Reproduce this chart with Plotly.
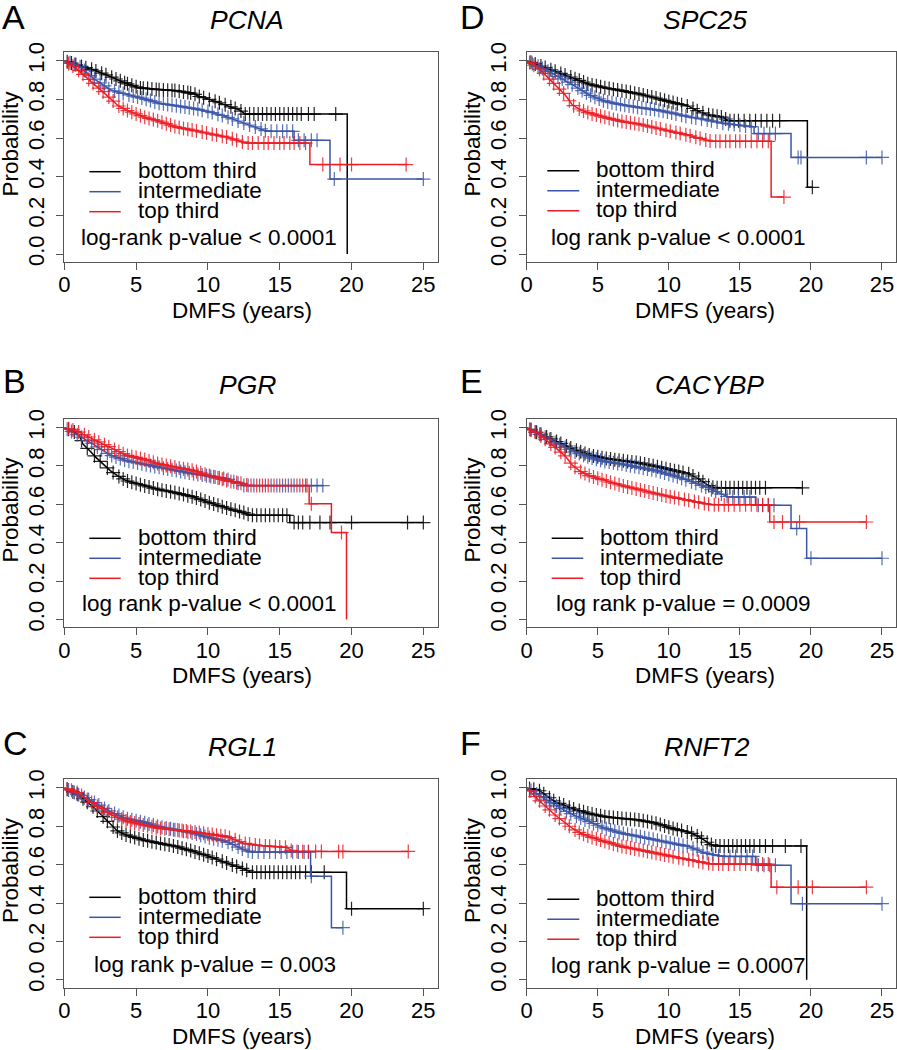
import numpy as np
import plotly.graph_objects as go

# ---------------- data ----------------
panel_letters = ["A", "B", "C", "D", "E", "F"]
gene_names = ["PCNA", "PGR", "RGL1", "SPC25", "CACYBP", "RNFT2"]
pvalue_texts = [
    "log-rank p-value < 0.0001",
    "log rank p-value < 0.0001",
    "log rank p-value = 0.003",
    "log rank p-value < 0.0001",
    "log rank p-value = 0.0009",
    "log rank p-value = 0.0007",
]
group_names = ["bottom third", "intermediate", "top third"]
x_tick_vals = [0, 5, 10, 15, 20, 25]
y_tick_vals = [0.0, 0.2, 0.4, 0.6, 0.8, 1.0]
y_tick_text = ["0.0", "0.2", "0.4", "0.6", "0.8", "1.0"]
x_title = "DMFS (years)"
y_title = "Probability"

# ---- Panel A: PCNA ----
A_bot_t = [0, 1.0, 2.0, 3.2, 4.3, 5.2, 6.6, 7.8, 9.0, 9.4, 10.1, 11.3, 12.2, 12.6, 19.7, 19.7]
A_bot_s = [1.0, 0.975, 0.953, 0.918, 0.883, 0.86, 0.85, 0.845, 0.83, 0.815, 0.80, 0.77, 0.745, 0.724, 0.724, 0.0]
A_bot_c = [0.2, 0.5, 0.8, 1.2, 1.5, 1.9, 2.2, 2.6, 2.9, 3.3, 3.6, 3.9, 4.2, 4.4, 4.7, 5.0, 5.3, 5.5, 5.8, 6.1, 6.4, 6.6, 6.9, 7.2, 7.5, 7.7, 8.0, 8.3, 8.6, 8.8, 9.1, 9.4, 9.7, 10.1, 10.5, 10.8, 11.2, 11.6, 11.9, 12.3, 12.6, 12.9, 13.2, 13.5, 13.8, 14.1, 14.4, 14.7, 15.0, 15.3, 15.6, 15.9, 16.2, 16.5, 17.0, 17.4, 18.9]
A_int_t = [0, 1.07, 2.0, 2.7, 3.2, 4.3, 5.5, 6.6, 7.8, 9.0, 10.1, 11.3, 12.4, 13.6, 14.1, 16.0, 16.0, 18.5, 18.5, 25.0]
A_int_s = [1.0, 0.97, 0.91, 0.875, 0.85, 0.826, 0.805, 0.78, 0.767, 0.753, 0.736, 0.71, 0.68, 0.65, 0.635, 0.635, 0.588, 0.588, 0.388, 0.388]
A_int_c = [0.4, 0.7, 1.1, 1.4, 1.8, 2.1, 2.5, 2.8, 3.1, 3.5, 3.8, 4.1, 4.5, 4.8, 5.1, 5.4, 5.7, 6.0, 6.3, 6.6, 6.9, 7.2, 7.5, 7.8, 8.1, 8.4, 8.7, 9.0, 9.3, 9.6, 10.0, 10.3, 10.7, 11.0, 11.4, 11.7, 12.1, 12.5, 12.9, 13.3, 13.7, 14.0, 14.4, 14.8, 15.2, 15.5, 15.9, 16.3, 16.7, 17.2, 17.6, 18.8, 25.0]
A_top_t = [0, 0.84, 2.0, 2.7, 3.2, 3.7, 4.3, 5.5, 6.6, 7.8, 9.0, 10.1, 11.3, 12.4, 12.7, 17.1, 17.1, 23.9]
A_top_s = [1.0, 0.96, 0.883, 0.84, 0.805, 0.77, 0.745, 0.71, 0.687, 0.657, 0.64, 0.623, 0.605, 0.58, 0.574, 0.574, 0.463, 0.463]
A_top_c = [0.3, 0.6, 1.0, 1.3, 1.7, 2.0, 2.4, 2.7, 3.1, 3.4, 3.8, 4.1, 4.4, 4.7, 5.0, 5.3, 5.6, 5.9, 6.2, 6.5, 6.8, 7.1, 7.4, 7.7, 8.0, 8.3, 8.6, 8.9, 9.2, 9.6, 9.9, 10.3, 10.6, 11.0, 11.3, 11.7, 12.0, 12.4, 12.8, 13.1, 13.5, 13.9, 14.2, 14.6, 15.0, 15.3, 15.7, 16.0, 16.4, 16.8, 18.0, 19.2, 20.0, 23.8]

# ---- Panel B: PGR ----
B_bot_t = [0, 0.6, 1.07, 1.3, 1.77, 2.2, 3.2, 3.7, 4.3, 5.5, 6.6, 7.8, 9.0, 10.1, 11.3, 12.5, 13.0, 15.7, 15.7, 25.0]
B_bot_s = [1.0, 0.983, 0.957, 0.914, 0.88, 0.845, 0.776, 0.75, 0.724, 0.698, 0.677, 0.66, 0.638, 0.609, 0.581, 0.557, 0.543, 0.543, 0.505, 0.505]
B_bot_c = [0.3, 0.7, 1.2, 1.6, 2.1, 2.5, 3.0, 3.4, 3.8, 4.1, 4.4, 4.7, 5.0, 5.3, 5.6, 5.9, 6.2, 6.5, 6.8, 7.1, 7.4, 7.7, 8.0, 8.3, 8.6, 8.9, 9.2, 9.5, 9.8, 10.1, 10.4, 10.7, 11.0, 11.3, 11.6, 11.9, 12.2, 12.5, 12.8, 13.1, 13.4, 13.7, 14.0, 14.3, 14.6, 14.9, 15.2, 15.5, 16.0, 16.3, 16.6, 17.1, 17.8, 18.5, 20.0, 23.9, 25.0]
B_int_t = [0, 0.84, 2.0, 2.7, 3.2, 4.3, 5.5, 6.6, 7.8, 9.0, 10.1, 11.3, 12.5, 18.0]
B_int_s = [1.0, 0.966, 0.914, 0.88, 0.857, 0.828, 0.81, 0.793, 0.776, 0.759, 0.747, 0.733, 0.698, 0.698]
B_int_c = [0.2, 0.5, 0.9, 1.2, 1.6, 1.9, 2.3, 2.6, 3.0, 3.3, 3.6, 3.9, 4.2, 4.5, 4.8, 5.1, 5.4, 5.7, 6.0, 6.3, 6.6, 6.9, 7.2, 7.5, 7.8, 8.1, 8.4, 8.7, 9.0, 9.3, 9.6, 9.9, 10.2, 10.5, 10.8, 11.1, 11.4, 11.8, 12.1, 12.5, 12.8, 13.2, 13.6, 14.0, 14.4, 14.8, 15.2, 15.6, 16.0, 16.4, 16.8, 17.2, 17.6, 18.0]
B_top_t = [0, 0.84, 2.0, 3.2, 4.3, 5.5, 6.6, 7.8, 9.0, 10.1, 11.3, 12.5, 12.8, 17.05, 17.05, 18.6, 18.6, 19.65, 19.65]
B_top_s = [1.0, 0.983, 0.94, 0.897, 0.857, 0.836, 0.81, 0.793, 0.776, 0.75, 0.724, 0.707, 0.698, 0.698, 0.603, 0.603, 0.453, 0.453, 0.0]
B_top_c = [0.3, 0.6, 1.0, 1.4, 1.7, 2.1, 2.4, 2.8, 3.1, 3.5, 3.8, 4.1, 4.4, 4.7, 5.0, 5.3, 5.6, 5.9, 6.2, 6.5, 6.8, 7.1, 7.4, 7.7, 8.0, 8.3, 8.6, 8.9, 9.2, 9.5, 9.8, 10.1, 10.4, 10.7, 11.0, 11.3, 11.6, 12.0, 12.3, 12.7, 13.0, 13.4, 13.8, 14.2, 14.6, 15.0, 15.4, 15.8, 16.2, 16.6, 16.9, 17.2, 19.3]

# ---- Panel C: RGL1 ----
C_bot_t = [0, 0.84, 2.0, 2.7, 3.2, 3.7, 4.3, 5.5, 6.6, 7.8, 9.0, 10.1, 11.3, 12.5, 13.0, 19.65, 19.65, 25.0]
C_bot_s = [1.0, 0.971, 0.902, 0.85, 0.81, 0.776, 0.755, 0.729, 0.712, 0.695, 0.669, 0.643, 0.609, 0.578, 0.56, 0.56, 0.371, 0.371]
C_bot_c = [0.2, 0.6, 0.9, 1.3, 1.6, 2.0, 2.3, 2.7, 3.0, 3.4, 3.7, 4.0, 4.3, 4.6, 4.9, 5.2, 5.5, 5.8, 6.1, 6.4, 6.7, 7.0, 7.3, 7.6, 7.9, 8.2, 8.5, 8.8, 9.1, 9.4, 9.7, 10.0, 10.3, 10.6, 11.0, 11.3, 11.7, 12.0, 12.4, 12.7, 13.1, 13.4, 13.7, 14.0, 14.3, 14.6, 14.9, 15.2, 15.5, 15.8, 16.1, 16.4, 16.8, 17.2, 18.1, 20.0, 25.0]
C_int_t = [0, 0.84, 2.0, 3.2, 4.3, 5.5, 6.6, 7.8, 9.0, 10.1, 11.3, 12.5, 13.0, 17.15, 17.15, 18.6, 18.6, 19.4]
C_int_s = [1.0, 0.971, 0.928, 0.876, 0.841, 0.821, 0.798, 0.781, 0.764, 0.741, 0.72, 0.678, 0.666, 0.666, 0.54, 0.54, 0.272, 0.272]
C_int_c = [0.3, 0.7, 1.0, 1.4, 1.7, 2.1, 2.4, 2.8, 3.1, 3.5, 3.8, 4.1, 4.4, 4.7, 5.0, 5.3, 5.6, 5.9, 6.2, 6.5, 6.8, 7.1, 7.4, 7.7, 8.0, 8.3, 8.6, 8.9, 9.2, 9.5, 9.8, 10.1, 10.4, 10.7, 11.0, 11.4, 11.7, 12.1, 12.4, 12.8, 13.1, 13.5, 13.9, 14.3, 14.7, 15.1, 15.5, 15.9, 16.3, 16.7, 17.0, 17.2, 19.4]
C_top_t = [0, 0.84, 2.0, 3.2, 4.3, 5.5, 6.6, 7.8, 9.0, 10.1, 11.3, 12.5, 13.6, 15.5, 15.9, 23.95]
C_top_s = [1.0, 0.979, 0.919, 0.862, 0.828, 0.807, 0.79, 0.781, 0.772, 0.759, 0.747, 0.712, 0.70, 0.69, 0.669, 0.669]
C_top_c = [0.2, 0.5, 0.9, 1.2, 1.6, 1.9, 2.3, 2.6, 3.0, 3.3, 3.7, 4.0, 4.3, 4.6, 4.9, 5.2, 5.5, 5.8, 6.1, 6.4, 6.7, 7.0, 7.3, 7.6, 7.9, 8.2, 8.5, 8.8, 9.1, 9.4, 9.7, 10.0, 10.3, 10.6, 10.9, 11.2, 11.5, 11.9, 12.2, 12.6, 12.9, 13.3, 13.6, 14.0, 14.3, 14.7, 15.0, 15.4, 15.8, 16.2, 16.6, 17.0, 17.5, 17.9, 19.1, 19.4, 23.95]

# ---- Panel D: SPC25 ----
D_bot_t = [0, 2.0, 3.2, 4.4, 5.5, 6.7, 7.9, 9.1, 10.2, 11.4, 12.1, 12.8, 13.8, 14.2, 19.75, 19.75, 20.1]
D_bot_s = [1.0, 0.945, 0.913, 0.878, 0.86, 0.845, 0.828, 0.807, 0.785, 0.764, 0.738, 0.72, 0.707, 0.69, 0.69, 0.345, 0.345]
D_bot_c = [0.3, 0.6, 1.0, 1.3, 1.7, 2.0, 2.4, 2.7, 3.1, 3.4, 3.7, 4.0, 4.3, 4.6, 4.9, 5.2, 5.5, 5.8, 6.1, 6.4, 6.7, 7.0, 7.3, 7.6, 7.9, 8.2, 8.5, 8.8, 9.1, 9.4, 9.7, 10.0, 10.3, 10.6, 10.9, 11.3, 11.7, 12.0, 12.4, 12.8, 13.1, 13.4, 13.7, 14.0, 14.3, 14.6, 14.9, 15.3, 15.7, 16.1, 16.5, 16.9, 17.3, 17.8, 20.1]
D_int_t = [0, 2.0, 3.2, 4.4, 5.5, 6.7, 7.9, 9.1, 10.2, 11.4, 12.6, 13.8, 16.0, 16.0, 18.6, 18.6, 25.0]
D_int_s = [1.0, 0.927, 0.876, 0.824, 0.79, 0.772, 0.758, 0.746, 0.73, 0.71, 0.695, 0.677, 0.657, 0.623, 0.623, 0.50, 0.50]
D_int_c = [0.4, 0.8, 1.1, 1.5, 1.8, 2.2, 2.5, 2.9, 3.2, 3.6, 3.9, 4.2, 4.5, 4.8, 5.1, 5.4, 5.7, 6.0, 6.3, 6.6, 6.9, 7.2, 7.5, 7.8, 8.1, 8.4, 8.7, 9.0, 9.3, 9.6, 9.9, 10.2, 10.5, 10.9, 11.2, 11.6, 11.9, 12.3, 12.7, 13.0, 13.4, 13.8, 14.2, 14.6, 15.0, 15.4, 15.8, 16.3, 16.7, 17.1, 17.5, 19.1, 19.3, 23.9, 25.0]
D_top_t = [0, 0.85, 2.0, 2.7, 3.2, 3.8, 4.4, 5.5, 6.7, 7.9, 9.1, 10.2, 11.4, 12.6, 13.0, 17.2, 17.2, 18.1]
D_top_s = [1.0, 0.96, 0.875, 0.824, 0.772, 0.746, 0.729, 0.707, 0.686, 0.672, 0.652, 0.634, 0.614, 0.59, 0.583, 0.583, 0.295, 0.295]
D_top_c = [0.2, 0.5, 0.9, 1.2, 1.6, 1.9, 2.3, 2.6, 3.0, 3.3, 3.7, 4.0, 4.3, 4.6, 4.9, 5.2, 5.5, 5.8, 6.1, 6.4, 6.7, 7.0, 7.3, 7.6, 7.9, 8.2, 8.5, 8.8, 9.1, 9.4, 9.8, 10.1, 10.5, 10.8, 11.2, 11.5, 11.9, 12.2, 12.6, 12.9, 13.3, 13.6, 14.0, 14.3, 14.7, 15.0, 15.4, 15.8, 16.2, 16.6, 17.0, 18.1]

# ---- Panel E: CACYBP ----
E_bot_t = [0, 2.0, 3.2, 4.4, 5.5, 6.7, 7.9, 9.1, 10.2, 11.4, 12.1, 12.8, 13.2, 19.4]
E_bot_s = [1.0, 0.931, 0.891, 0.857, 0.84, 0.828, 0.816, 0.798, 0.779, 0.759, 0.733, 0.698, 0.686, 0.686]
E_bot_c = [0.3, 0.7, 1.0, 1.4, 1.7, 2.1, 2.4, 2.8, 3.1, 3.5, 3.8, 4.1, 4.4, 4.7, 5.0, 5.3, 5.6, 5.9, 6.2, 6.5, 6.8, 7.1, 7.4, 7.7, 8.0, 8.3, 8.6, 8.9, 9.2, 9.5, 9.8, 10.1, 10.4, 10.7, 11.0, 11.4, 11.7, 12.1, 12.4, 12.8, 13.1, 13.4, 13.7, 14.0, 14.3, 14.6, 14.9, 15.2, 15.5, 15.8, 16.1, 16.4, 16.8, 19.4]
E_int_t = [0, 2.0, 3.2, 4.4, 5.5, 6.7, 7.9, 9.1, 10.2, 11.4, 12.6, 13.8, 14.2, 16.1, 16.1, 18.6, 18.6, 19.7, 19.7, 25.0]
E_int_s = [1.0, 0.922, 0.879, 0.845, 0.824, 0.81, 0.793, 0.776, 0.753, 0.724, 0.69, 0.65, 0.638, 0.638, 0.595, 0.595, 0.474, 0.474, 0.319, 0.319]
E_int_c = [0.2, 0.6, 0.9, 1.3, 1.6, 2.0, 2.3, 2.7, 3.0, 3.4, 3.7, 4.0, 4.3, 4.6, 4.9, 5.2, 5.5, 5.8, 6.1, 6.4, 6.7, 7.0, 7.3, 7.6, 7.9, 8.2, 8.5, 8.8, 9.1, 9.4, 9.7, 10.0, 10.3, 10.6, 10.9, 11.2, 11.6, 11.9, 12.3, 12.6, 13.0, 13.3, 13.7, 14.1, 14.5, 14.9, 15.3, 15.7, 16.3, 16.6, 17.0, 17.4, 19.0, 20.0, 25.0]
E_top_t = [0, 0.85, 2.0, 2.7, 3.2, 3.8, 4.4, 5.5, 6.7, 7.9, 9.1, 10.2, 11.4, 12.6, 13.0, 17.1, 17.1, 23.9]
E_top_s = [1.0, 0.966, 0.897, 0.853, 0.805, 0.771, 0.75, 0.724, 0.698, 0.677, 0.655, 0.638, 0.621, 0.603, 0.598, 0.598, 0.508, 0.508]
E_top_c = [0.3, 0.6, 1.0, 1.3, 1.7, 2.0, 2.4, 2.7, 3.1, 3.4, 3.8, 4.1, 4.4, 4.7, 5.0, 5.3, 5.6, 5.9, 6.2, 6.5, 6.8, 7.1, 7.4, 7.7, 8.0, 8.3, 8.6, 8.9, 9.2, 9.5, 9.8, 10.1, 10.4, 10.7, 11.1, 11.4, 11.8, 12.1, 12.5, 12.8, 13.2, 13.5, 13.9, 14.2, 14.6, 15.0, 15.4, 15.8, 16.2, 16.6, 17.0, 17.4, 18.0, 19.2, 23.9]

# ---- Panel F: RNFT2 ----
F_bot_t = [0, 0.85, 2.0, 3.2, 4.4, 5.5, 6.7, 7.9, 9.1, 10.2, 11.4, 12.1, 12.8, 13.2, 19.7, 19.7]
F_bot_s = [1.0, 0.988, 0.928, 0.893, 0.867, 0.85, 0.841, 0.833, 0.816, 0.79, 0.769, 0.747, 0.712, 0.698, 0.698, 0.0]
F_bot_c = [0.2, 0.5, 0.9, 1.2, 1.6, 1.9, 2.3, 2.6, 3.0, 3.3, 3.7, 4.0, 4.3, 4.6, 4.9, 5.2, 5.5, 5.8, 6.1, 6.4, 6.7, 7.0, 7.3, 7.6, 7.9, 8.2, 8.5, 8.8, 9.1, 9.4, 9.7, 10.0, 10.3, 10.6, 10.9, 11.3, 11.6, 12.0, 12.3, 12.7, 13.0, 13.3, 13.6, 13.9, 14.2, 14.5, 14.8, 15.1, 15.4, 15.7, 16.0, 16.4, 16.8, 17.3, 18.2, 19.3]
F_int_t = [0, 2.0, 3.2, 4.4, 5.5, 6.7, 7.9, 9.1, 10.2, 11.4, 12.6, 13.8, 16.1, 16.1, 18.6, 18.6, 25.0]
F_int_s = [1.0, 0.91, 0.862, 0.824, 0.79, 0.764, 0.747, 0.729, 0.712, 0.695, 0.66, 0.643, 0.643, 0.597, 0.597, 0.397, 0.397]
F_int_c = [0.3, 0.7, 1.0, 1.4, 1.7, 2.1, 2.4, 2.8, 3.1, 3.5, 3.8, 4.1, 4.4, 4.7, 5.0, 5.3, 5.6, 5.9, 6.2, 6.5, 6.8, 7.1, 7.4, 7.7, 8.0, 8.3, 8.6, 8.9, 9.2, 9.5, 9.8, 10.1, 10.4, 10.7, 11.0, 11.3, 11.7, 12.0, 12.4, 12.7, 13.1, 13.5, 13.9, 14.3, 14.7, 15.1, 15.5, 15.9, 16.3, 16.7, 17.1, 17.5, 19.4, 25.0]
F_top_t = [0, 0.85, 2.0, 2.7, 3.2, 3.8, 4.4, 5.5, 6.7, 7.9, 9.1, 10.2, 11.4, 12.6, 13.0, 17.2, 17.2, 23.9]
F_top_s = [1.0, 0.936, 0.859, 0.816, 0.79, 0.764, 0.747, 0.721, 0.695, 0.678, 0.66, 0.643, 0.626, 0.609, 0.603, 0.603, 0.483, 0.483]
F_top_c = [0.2, 0.6, 0.9, 1.3, 1.6, 2.0, 2.3, 2.7, 3.0, 3.4, 3.7, 4.0, 4.3, 4.6, 4.9, 5.2, 5.5, 5.8, 6.1, 6.4, 6.7, 7.0, 7.3, 7.6, 7.9, 8.2, 8.5, 8.8, 9.1, 9.4, 9.7, 10.0, 10.3, 10.7, 11.0, 11.4, 11.7, 12.1, 12.4, 12.8, 13.1, 13.5, 13.8, 14.2, 14.6, 15.0, 15.4, 15.8, 16.2, 16.6, 17.0, 17.6, 19.1, 20.1, 23.9]

# ---------------- styling / geometry ----------------
W, H = 897, 1050
FONT = "Liberation Sans, Arial, Helvetica, sans-serif"
COLORS = ["#000000", "#3A55A8", "#EC1C24"]
BOX = "#555555"
X_RANGE = [0, 26]
Y_RANGE = [-0.041, 1.045]

panel_series = [
    [(A_bot_t, A_bot_s, A_bot_c), (A_int_t, A_int_s, A_int_c), (A_top_t, A_top_s, A_top_c)],
    [(B_bot_t, B_bot_s, B_bot_c), (B_int_t, B_int_s, B_int_c), (B_top_t, B_top_s, B_top_c)],
    [(C_bot_t, C_bot_s, C_bot_c), (C_int_t, C_int_s, C_int_c), (C_top_t, C_top_s, C_top_c)],
    [(D_bot_t, D_bot_s, D_bot_c), (D_int_t, D_int_s, D_int_c), (D_top_t, D_top_s, D_top_c)],
    [(E_bot_t, E_bot_s, E_bot_c), (E_int_t, E_int_s, E_int_c), (E_top_t, E_top_s, E_top_c)],
    [(F_bot_t, F_bot_s, F_bot_c), (F_int_t, F_int_s, F_int_c), (F_top_t, F_top_s, F_top_c)],
]

# pixel geometry of each panel
geo = [
    dict(box=(64.3, 437.7, 52, 262), letter=(0, 17), title=(247, 20), xt=(242, 310), yt=(10, 143.5),
         leg=(89.3, 120.7), legy=(171.7, 191.7, 211.7), legtx=136, p=(79.3, 237.5)),
    dict(box=(64.3, 437.7, 419, 627.3), letter=(1, 381.5), title=(247, 385), xt=(242, 675), yt=(10, 509.5),
         leg=(89.3, 120.7), legy=(538.3, 558.3, 578.3), legtx=136, p=(80, 603)),
    dict(box=(64.3, 437.7, 779.3, 987.7), letter=(1, 743), title=(242, 747), xt=(242, 1036), yt=(10, 870),
         leg=(89.3, 120.7), legy=(897.3, 917.3, 937.3), legtx=136, p=(91.7, 964)),
    dict(box=(526.7, 896.2, 52, 262), letter=(458, 17), title=(705, 20), xt=(705, 310), yt=(472, 143.5),
         leg=(547.3, 579.3), legy=(170.7, 190.7, 210.7), legtx=594, p=(549.3, 237.5)),
    dict(box=(526.7, 896.2, 419, 627.3), letter=(458, 381.5), title=(709, 385), xt=(705, 675), yt=(472, 509.5),
         leg=(551.7, 583.3), legy=(538.3, 558.3, 578.3), legtx=598.3, p=(554, 603)),
    dict(box=(526.7, 896.2, 779.3, 987.7), letter=(458, 742.5), title=(707, 747), xt=(705, 1036), yt=(472, 870),
         leg=(547.3, 579.3), legy=(899.3, 919.3, 939.3), legtx=594, p=(549.3, 965)),
]


def fx(x):
    return x / W


def fy(y):
    return 1 - y / H


fig = go.Figure()
layout = dict(
    width=W, height=H, margin=dict(l=0, r=0, t=0, b=0, pad=0, autoexpand=False),
    paper_bgcolor="white", plot_bgcolor="white", showlegend=False,
    font=dict(family=FONT, color="black"),
)
annotations = []
shapes = []

for i in range(6):
    g = geo[i]
    sfx = "" if i == 0 else str(i + 1)
    xa, ya = "x" + sfx, "y" + sfx
    x0, x1, y0, y1 = g["box"]
    layout["xaxis" + sfx] = dict(
        domain=[fx(x0), min(fx(x1), 1.0)], range=X_RANGE, anchor=ya, automargin=False,
        tickvals=x_tick_vals, ticks="outside", ticklen=7, tickwidth=1, tickcolor=BOX,
        ticklabelstandoff=-4,
        showline=True, mirror=True, linecolor=BOX, linewidth=1,
        showgrid=False, zeroline=False, tickfont=dict(size=22, family=FONT, color="black"),
    )
    layout["yaxis" + sfx] = dict(
        domain=[fy(y1), fy(y0)], range=Y_RANGE, anchor=xa, automargin=False,
        tickvals=y_tick_vals, ticktext=y_tick_text, tickangle=-90,
        ticks="outside", ticklen=7, tickwidth=1, tickcolor=BOX,
        ticklabelstandoff=4,
        showline=True, mirror=True, linecolor=BOX, linewidth=1,
        showgrid=False, zeroline=False, tickfont=dict(size=22, family=FONT, color="black"),
    )
    for k, (t, s, c) in enumerate(panel_series[i]):
        col = COLORS[k]
        fig.add_trace(go.Scatter(x=t, y=s, mode="lines", xaxis=xa, yaxis=ya,
                                 line=dict(color=col, width=1.5), hoverinfo="skip"))
        cy = np.interp(np.array(c), np.array(t), np.array(s))
        fig.add_trace(go.Scatter(x=c, y=cy, mode="markers", xaxis=xa, yaxis=ya,
                                 marker=dict(symbol="cross-thin", size=10, opacity=0.85,
                                             line=dict(color=col, width=1.2)),
                                 hoverinfo="skip"))
        shapes.append(dict(type="line", xref="paper", yref="paper",
                           x0=fx(g["leg"][0]), x1=fx(g["leg"][1]),
                           y0=fy(g["legy"][k]), y1=fy(g["legy"][k]),
                           line=dict(color=col, width=1.5)))
        annotations.append(dict(text=group_names[k], xref="paper", yref="paper",
                                x=fx(g["legtx"]), y=fy(g["legy"][k] - 1.2),
                                xanchor="left", yanchor="middle", showarrow=False,
                                font=dict(size=22.5, family=FONT, color="black")))
    annotations.append(dict(text=pvalue_texts[i], xref="paper", yref="paper",
                            x=fx(g["p"][0]), y=fy(g["p"][1]), xanchor="left", yanchor="middle",
                            showarrow=False, font=dict(size=22.5, family=FONT, color="black")))
    annotations.append(dict(text=panel_letters[i], xref="paper", yref="paper",
                            x=fx(g["letter"][0]), y=fy(g["letter"][1]), xanchor="left", yanchor="middle",
                            showarrow=False, font=dict(size=34, family=FONT, color="black")))
    annotations.append(dict(text="<i>" + gene_names[i] + "</i>", xref="paper", yref="paper",
                            x=fx(g["title"][0]), y=fy(g["title"][1]), xanchor="center", yanchor="middle",
                            showarrow=False, font=dict(size=26.5, family=FONT, color="black")))
    annotations.append(dict(text=x_title, xref="paper", yref="paper",
                            x=fx(g["xt"][0]), y=fy(g["xt"][1]), xanchor="center", yanchor="middle",
                            showarrow=False, font=dict(size=22.5, family=FONT, color="black")))
    annotations.append(dict(text=y_title, xref="paper", yref="paper", textangle=-90,
                            x=fx(g["yt"][0]), y=fy(g["yt"][1]), xanchor="center", yanchor="middle",
                            showarrow=False, font=dict(size=22.5, family=FONT, color="black")))

layout["annotations"] = annotations
layout["shapes"] = shapes
fig.update_layout(**layout)
fig.write_html(
    "out.html",
    config={"displayModeBar": False},
    post_script="document.body.style.margin='0';document.body.style.overflow='hidden';",
)
